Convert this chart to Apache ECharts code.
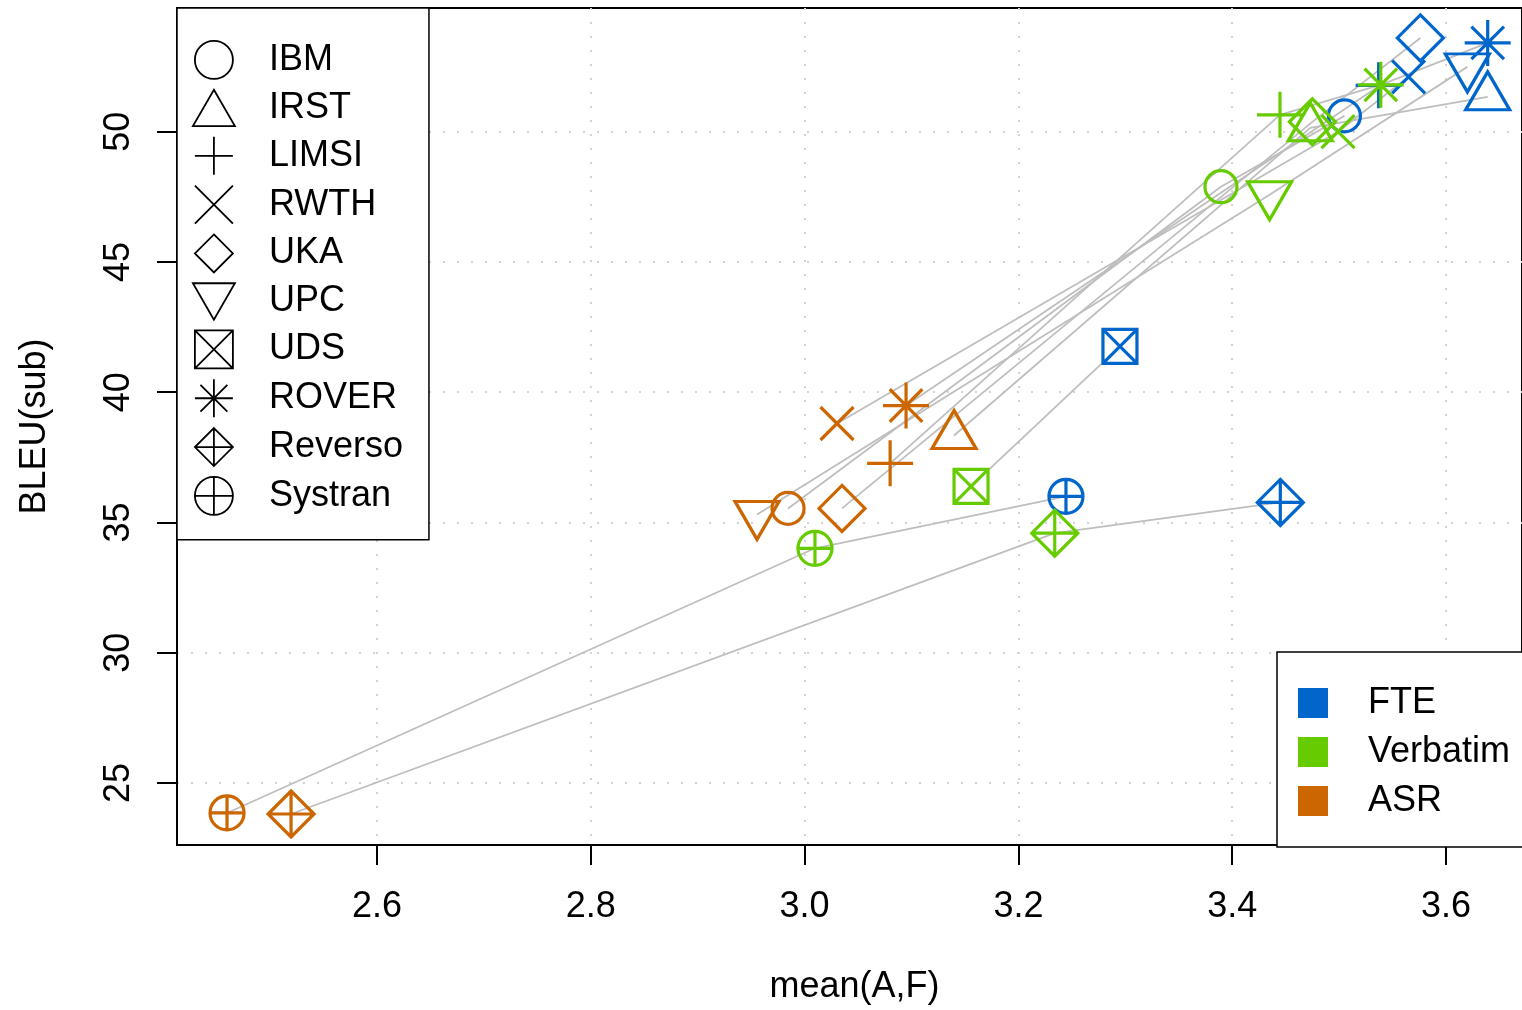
<!DOCTYPE html>
<html>
<head>
<meta charset="UTF-8">
<title>BLEU vs mean(A,F)</title>
<style>
    html, body { margin: 0; padding: 0; background: #fff; }
    #chartArea { width: 1522px; height: 1010px; }
</style>
</head>
<body>
<div id="chartArea"></div>
<script src="https://cdn.jsdelivr.net/npm/echarts@6/dist/echarts.min.js"></script>
<script>
// systems and conditions
var systems = ['IBM', 'IRST', 'LIMSI', 'RWTH', 'UKA', 'UPC', 'UDS', 'ROVER', 'Reverso', 'Systran'];
var conditions = ['FTE', 'Verbatim', 'ASR'];

// mean(A,F) / BLEU(sub) per condition, same order as systems (null = no point)
var fteX  = [3.505, 3.639, 3.537, 3.565, 3.576, 3.620, 3.295, 3.639, 3.445, 3.2445];
var fteY  = [50.61, 51.34, 51.78, 52.11, 53.60, 52.49, 41.76, 53.41, 35.77, 36.00];
var verbX = [3.3895, 3.473, 3.4447, 3.499, 3.475, 3.435, 3.1557, 3.539, 3.234, 3.0097];
var verbY = [47.89, 50.15, 50.65, 50.00, 50.38, 47.58, 36.39, 51.80, 34.59, 34.01];
var asrX  = [2.9845, 3.1398, 3.080, 3.0303, 3.035, 2.9555, null, 3.0949, 2.5196, 2.4597];
var asrY  = [35.54, 38.34, 37.27, 38.80, 35.54, 35.31, null, 39.49, 23.81, 23.85];

var xTicks = [2.6, 2.8, 3.0, 3.2, 3.4, 3.6];
var yTicks = [25, 30, 35, 40, 45, 50];

var colors = { FTE: '#0066CC', Verbatim: '#66CC00', ASR: '#CC6600' };
var FONT = 'Liberation Sans, Arial, sans-serif';

// open R-like plotting symbols
var CIRC = 'M0,50 C0,22.4 22.4,0 50,0 C77.6,0 100,22.4 100,50 C100,77.6 77.6,100 50,100 C22.4,100 0,77.6 0,50 Z';
var PLUS = 'M0,50 L100,50 M50,0 L50,100';
var shapes = {
    IBM:     { path: 'path://' + CIRC, size: [32, 32], off: [0, 0] },
    IRST:    { path: 'path://M50,0 L100,86.6 L0,86.6 Z', size: [44, 38], off: [0, -6] },
    LIMSI:   { path: 'path://' + PLUS, size: [46, 46], off: [0, 0] },
    RWTH:    { path: 'path://M0,0 L100,100 M100,0 L0,100', size: [33, 33], off: [0, 0] },
    UKA:     { path: 'path://M50,0 L100,50 L50,100 L0,50 Z', size: [46, 46], off: [0, 0] },
    UPC:     { path: 'path://M0,0 L100,0 L50,86.6 Z', size: [44, 38], off: [0, 6] },
    UDS:     { path: 'path://M0,0 L100,0 L100,100 L0,100 Z M0,0 L100,100 M100,0 L0,100', size: [34, 34], off: [0, 0] },
    ROVER:   { path: 'path://' + PLUS + ' M14.6,14.6 L85.4,85.4 M85.4,14.6 L14.6,85.4', size: [46, 46], off: [0, 0] },
    Reverso: { path: 'path://M50,0 L100,50 L50,100 L0,50 Z ' + PLUS, size: [46, 46], off: [0, 0] },
    Systran: { path: 'path://' + CIRC + ' ' + PLUS, size: [34, 34], off: [0, 0] }
};

var xs = { FTE: fteX, Verbatim: verbX, ASR: asrX };
var ys = { FTE: fteY, Verbatim: verbY, ASR: asrY };

var series = [];

// grey lines joining each system across conditions
systems.forEach(function (s, i) {
    var pts = [];
    conditions.forEach(function (c) {
        if (xs[c][i] != null) pts.push([xs[c][i], ys[c][i]]);
    });
    series.push({
        type: 'line', data: pts, symbol: 'none', silent: true, z: 1,
        lineStyle: { color: '#BEBEBE', width: 1.8 }
    });
});

// points: FTE first, then Verbatim, then ASR on top
conditions.forEach(function (c) {
    systems.forEach(function (s, i) {
        if (xs[c][i] == null) return;
        series.push({
            name: s, type: 'scatter', z: 3, silent: true,
            symbol: shapes[s].path,
            symbolSize: shapes[s].size,
            symbolOffset: shapes[s].off,
            itemStyle: { color: 'transparent', borderColor: colors[c], borderWidth: 3.2, opacity: 1 },
            data: [[xs[c][i], ys[c][i]]]
        });
    });
});

// empty series only for the colour legend
conditions.forEach(function (c) {
    series.push({ name: c, type: 'scatter', data: [], itemStyle: { color: colors[c], opacity: 1 } });
});

var myChart = echarts.init(document.getElementById('chartArea'));
myChart.setOption({
    animation: false,
    backgroundColor: '#fff',
    grid: {
        left: 177, top: 8, right: 0, bottom: 164,
        show: true, borderColor: '#000', borderWidth: 2, backgroundColor: 'transparent'
    },
    xAxis: {
        type: 'value', min: 2.4129, max: 3.6711,
        axisLine: { show: true, onZero: false, lineStyle: { color: '#000', width: 2 } },
        axisTick: { show: true, customValues: xTicks, length: 20, lineStyle: { color: '#000', width: 2 } },
        axisLabel: {
            customValues: xTicks, margin: 44, fontSize: 36, color: '#000', fontFamily: FONT,
            formatter: function (v) { return (+v).toFixed(1); }
        },
        splitLine: { show: true, lineStyle: { color: '#D3D3D3', width: 2, type: [2, 12] } },
        name: 'mean(A,F)', nameLocation: 'middle', nameGap: 124,
        nameTextStyle: { fontSize: 36, color: '#000', fontFamily: FONT, padding: [0, 0, 0, 10] }
    },
    yAxis: {
        type: 'value', min: 22.62, max: 54.75,
        axisLine: { show: true, onZero: false, lineStyle: { color: '#000', width: 2 } },
        axisTick: { show: true, customValues: yTicks, length: 20, lineStyle: { color: '#000', width: 2 } },
        axisLabel: {
            customValues: yTicks, rotate: 90, margin: 40, fontSize: 36, color: '#000', fontFamily: FONT
        },
        splitLine: { show: true, lineStyle: { color: '#D3D3D3', width: 2, type: [2, 12] } },
        name: 'BLEU(sub)', nameLocation: 'middle', nameGap: 124, nameRotate: 90,
        nameTextStyle: { fontSize: 36, color: '#000', fontFamily: FONT }
    },
    legend: [
        {
            orient: 'vertical', left: 177, top: 8,
            padding: [32, 26, 24, 15],
            itemWidth: 42, itemHeight: 38, itemGap: 9,
            borderColor: '#000', borderWidth: 1.5, backgroundColor: '#fff',
            selectedMode: false,
            textStyle: { fontSize: 36, color: '#000', fontFamily: FONT, padding: [0, 0, 0, 29] },
            data: systems.map(function (s) {
                return {
                    name: s, icon: shapes[s].path,
                    itemStyle: { color: 'transparent', borderColor: '#000', borderWidth: 1.8, opacity: 1 }
                };
            })
        },
        {
            orient: 'vertical', left: 1277, top: 652,
            padding: [33, 60, 28, 21],
            itemWidth: 30, itemHeight: 30, itemGap: 13,
            borderColor: '#000', borderWidth: 1.5, backgroundColor: '#fff',
            selectedMode: false,
            textStyle: { fontSize: 36, color: '#000', fontFamily: FONT, padding: [0, 0, 0, 35] },
            data: conditions.map(function (c) { return { name: c, icon: 'rect' }; })
        }
    ],
    series: series
});
</script>
</body>
</html>
